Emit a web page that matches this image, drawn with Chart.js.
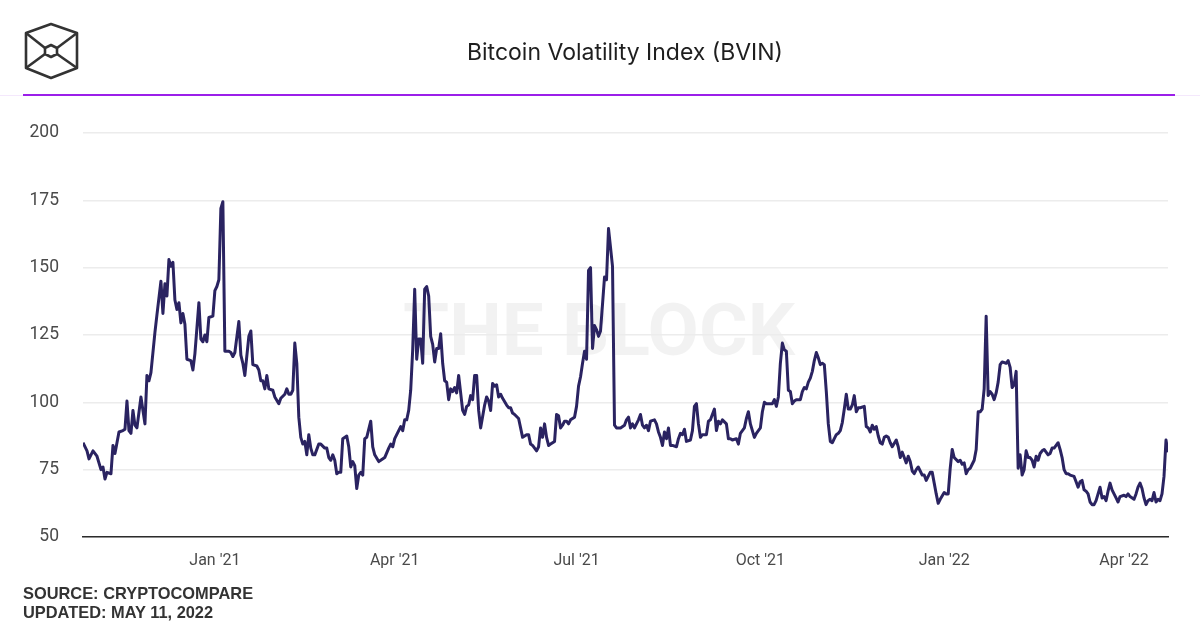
<!DOCTYPE html>
<html lang="en">
<head>
<meta charset="UTF-8">
<title>Bitcoin Volatility Index (BVIN)</title>
<script src="https://cdn.jsdelivr.net/npm/chart.js"></script>
<style>
  body { margin: 0; background: #fff; font-family: Roboto, Arial, sans-serif; }
  .page { position: relative; width: 1200px; height: 630px; overflow: hidden; background: #fff; }
  #bvinChart { position: absolute; left: 0; top: 0; }
  .logo { position: absolute; left: 22px; top: 21px; }
  .title { position: absolute; left: 0; width: 1250px; top: 38px; text-align: center;
           font-family: Inter, "Noto Sans", sans-serif; font-size: 23px; color: #1e1e1e; }
  .rule-faint { position: absolute; left: 0; top: 95px; width: 1200px; height: 1px; background: #f4e8fc; }
  .rule { position: absolute; left: 23px; top: 94px; width: 1152px; height: 2px; background: #9b1fe9; }
  .footer { position: absolute; left: 23px; top: 584px; font-family: "Liberation Sans", Arial, sans-serif;
            font-weight: bold; font-size: 16.4px; line-height: 19px; color: #333; }
</style>
</head>
<body>
<div class="page">
  <canvas id="bvinChart" width="1200" height="630"></canvas>
  <svg class="logo" width="58" height="60" viewBox="22 21 58 60">
    <g fill="none" stroke="#333" stroke-width="2.6" stroke-linejoin="round">
      <polygon points="51,24 77,33 77,68 51,78 26,68 26,33"/>
      <polygon points="51,45 57,48 57,54 51,57 45,54 45,48"/>
      <line x1="26" y1="33" x2="45" y2="48"/>
      <line x1="77" y1="33" x2="57" y2="48"/>
      <line x1="26" y1="68" x2="45" y2="54"/>
      <line x1="77" y1="68" x2="57" y2="54"/>
    </g>
  </svg>
  <div class="title">Bitcoin Volatility Index (BVIN)</div>
  <div class="rule-faint"></div>
  <div class="rule"></div>
  <div class="footer">SOURCE: CRYPTOCOMPARE<br>UPDATED: MAY 11, 2022</div>
</div>

<script>
  // days counted from 1 Jan 2021
  const tickDates = ['2021-01-01', '2021-04-01', '2021-07-01', '2021-10-01', '2022-01-01', '2022-04-01'];
  const tickLabels = ["Jan '21", "Apr '21", "Jul '21", "Oct '21", "Jan '22", "Apr '22"];
  const yTicks = [50, 75, 100, 125, 150, 175, 200];

  const days = [
    -66, -64, -63, -61, -59, -57, -56, -55, -54, -52, -51, -50, -48, -46, -45, -44, -43, -42, -41, -40,
    -39, -37, -35, -34, -33, -32, -30, -29, -27, -26, -25, -24, -23, -22, -21, -20, -19, -18, -17, -16,
    -15, -14, -12, -11, -10, -8, -7, -6, -5, -4, -3, -1, 0, 1, 2, 3, 4, 5, 7, 8,
    9, 10, 12, 13, 14, 15, 17, 18, 19, 21, 22, 23, 24, 25, 26, 27, 29, 30, 32, 33,
    35, 36, 37, 38, 39, 40, 41, 42, 43, 44, 45, 46, 47, 48, 49, 50, 52, 53, 55, 56,
    57, 58, 59, 60, 61, 62, 63, 64, 66, 67, 68, 69, 70, 71, 72, 73, 74, 75, 76, 78,
    79, 80, 82, 83, 85, 87, 88, 89, 90, 91, 93, 94, 95, 96, 97, 98, 99, 100, 101, 102,
    103, 104, 105, 106, 107, 108, 109, 110, 111, 112, 113, 114, 115, 116, 117, 118, 119, 120, 121, 122,
    123, 124, 125, 126, 127, 128, 129, 130, 131, 132, 133, 135, 136, 137, 138, 139, 140, 141, 142, 143,
    144, 146, 147, 148, 149, 150, 152, 153, 154, 156, 157, 158, 159, 160, 161, 162, 163, 164, 165, 166,
    167, 168, 170, 171, 172, 173, 174, 175, 176, 177, 178, 180, 181, 182, 183, 184, 185, 186, 187, 188,
    189, 190, 191, 192, 193, 194, 195, 196, 197, 198, 199, 200, 201, 203, 205, 206, 207, 208, 209, 210,
    211, 212, 213, 214, 215, 216, 217, 218, 220, 221, 222, 223, 224, 225, 226, 227, 228, 229, 231, 232,
    233, 234, 235, 236, 238, 239, 240, 241, 242, 243, 244, 246, 247, 248, 250, 251, 252, 253, 254, 256,
    257, 258, 259, 261, 262, 263, 264, 265, 266, 267, 268, 270, 271, 273, 274, 275, 276, 278, 279, 280,
    281, 282, 283, 284, 285, 286, 287, 288, 289, 290, 291, 293, 294, 295, 296, 297, 298, 299, 300, 301,
    302, 303, 304, 305, 306, 307, 308, 309, 310, 311, 312, 313, 314, 315, 316, 317, 318, 319, 320, 321,
    322, 323, 325, 326, 327, 328, 329, 330, 331, 332, 333, 334, 335, 336, 337, 338, 339, 341, 342, 343,
    344, 345, 346, 347, 348, 349, 350, 351, 352, 353, 354, 355, 356, 357, 358, 359, 360, 361, 362, 363,
    365, 366, 367, 368, 369, 370, 372, 373, 374, 375, 376, 377, 378, 379, 380, 381, 382, 383, 384, 385,
    386, 387, 388, 389, 390, 391, 392, 393, 394, 396, 397, 398, 399, 400, 401, 402, 403, 404, 405, 406,
    407, 408, 409, 410, 411, 412, 413, 414, 415, 416, 417, 418, 419, 420, 421, 422, 423, 424, 425, 426,
    427, 428, 430, 431, 432, 433, 434, 435, 436, 437, 438, 439, 440, 441, 442, 443, 444, 445, 446, 447,
    448, 449, 450, 451, 452, 453, 455, 456, 457, 458, 460, 461, 462, 463, 464, 465, 466, 467, 468, 469,
    470, 471, 472, 473, 474, 475, 476, 477
  ];

  const bvin = [
    85, 82, 79, 82, 80, 75, 76, 71.5, 74, 73.5, 84, 81, 89, 89.5, 90, 100.5, 89.5, 88.5, 97, 91.5,
    90.5, 102, 92, 110, 108, 111, 126, 132.5, 145, 133, 144, 139.5, 153, 150.5, 152, 138, 134.5, 137, 129.5, 133,
    129, 116, 115.5, 112, 118, 137, 123.5, 122.5, 125, 122.5, 131.5, 132, 141.5, 143, 145.5, 172, 174.5, 119, 119, 118.5,
    117, 118.5, 130, 117.5, 114.5, 110, 124.5, 126.5, 114, 113.5, 112, 108, 108, 105, 110, 105, 104.5, 102, 99.5, 101.5,
    103, 105, 103, 103, 104.5, 122, 114.5, 94.5, 87, 84.5, 85.5, 80.5, 88, 83, 80.5, 80.5, 84.5, 84.5, 83, 83,
    79.5, 78.5, 80.5, 78.5, 73.5, 74, 74, 86.5, 87.5, 83.5, 76, 78, 76.5, 68, 73, 74, 73, 86.5, 87, 93,
    83.5, 80.5, 78, 78.5, 79.5, 83, 84.5, 83.5, 86.5, 88, 91, 89.5, 93.5, 93.5, 97, 104.5, 119.5, 142, 116, 123.5,
    123.5, 114.5, 142, 143, 139.5, 124.5, 121.5, 115, 120, 120, 125.5, 114.5, 108, 107.5, 101, 105, 104, 105.5, 103.5, 110,
    103.5, 97, 95.5, 98.5, 99, 102.5, 101, 110, 110, 97, 90.5, 99, 102, 100.5, 97, 107, 106, 106.5, 102, 103,
    101.5, 99, 98, 98, 96, 95.5, 94, 90.5, 87, 88, 88, 84.5, 84, 83, 82, 83.5, 90.5, 87, 92, 87,
    84, 84.5, 85.5, 95.5, 95, 90.5, 91.5, 93, 93, 92, 93.5, 94.5, 98.5, 106, 109.5, 114.5, 119, 116, 149, 150,
    120, 128.5, 127, 124.5, 126.5, 136.5, 146.5, 145.5, 164.5, 157.5, 150.5, 91.5, 90.5, 90.5, 91.5, 93.5, 94.5, 90.5, 92, 90.5,
    92, 93.5, 95.5, 91.5, 90.5, 91.5, 89.5, 93, 93.5, 92, 89, 87, 84, 89, 86.5, 90.5, 84, 84, 83.5, 86.5,
    88.5, 88, 90, 85.5, 86, 89.5, 98.5, 99.5, 92, 87, 88, 88, 93, 93.5, 97.5, 89.5, 93, 92, 93.5, 92,
    86.5, 86.5, 86, 86.5, 84.5, 88.5, 89.5, 90.5, 94, 96.5, 92, 87, 88.5, 90.5, 96.5, 100, 99.5, 99.5, 99.5, 101,
    98.5, 102, 114.5, 122, 119.5, 119, 104.5, 104, 99.5, 100.5, 101, 101, 104, 105.5, 105, 107.5, 109, 111.5, 115.5, 118.5,
    116.5, 114, 114.5, 114, 104, 92, 85.5, 85, 86.5, 88, 88.5, 89.5, 92.5, 97.5, 103, 97.5, 97.5, 99, 102.5, 96.5,
    98, 98, 98.5, 91, 90.5, 89, 91.5, 90, 91, 87.5, 85, 84.5, 87, 87.5, 87, 85, 83.5, 86, 83.5, 79.5,
    81.5, 79.5, 77.5, 80, 78, 74.5, 73.5, 75, 76, 74.5, 73, 73, 71, 72.5, 74, 74, 70, 66, 62.5, 64,
    66.5, 66, 66, 75.5, 82.5, 79.5, 78, 78.5, 77, 77.5, 73.5, 75, 75.5, 77, 78.5, 82.5, 96.5, 96.5, 97.5, 105,
    132, 102.5, 104, 103, 101, 103.5, 107.5, 114, 115, 114.5, 115.5, 113, 105.5, 106.5, 111.5, 75.5, 80.5, 73, 75, 82,
    79.5, 79.5, 78.5, 76, 80, 78.5, 81, 82, 82.5, 81.5, 80.5, 81, 83, 83, 84, 85, 82.5, 79.5, 75, 73.5,
    73.5, 73, 72.5, 70.5, 68.5, 70.5, 71, 67.5, 67, 66, 63, 62, 62, 63.5, 66, 68.5, 64.5, 65, 63.5, 67,
    70, 67.5, 66, 64.5, 63, 65, 65.5, 65, 66, 65, 64, 66, 68.5, 70, 68, 64.5, 62, 63.5, 64, 63.5,
    66.5, 63, 64, 63.5, 66, 72.5, 86, 81.5
  ];

  const dayMs = 24 * 3600 * 1000;
  const origin = Date.UTC(2021, 0, 1);
  const tickDays = tickDates.map(d => Math.round((Date.parse(d) - origin) / dayMs));

  const points = days.map((d, i) => ({ x: d, y: bvin[i] }));

  const watermark = {
    id: 'watermark',
    beforeDraw(chart) {
      const ctx = chart.ctx;
      ctx.save();
      ctx.font = 'bold 72px Roboto, Arial, sans-serif';
      const w = ctx.measureText('THE BLOCK').width;
      ctx.translate(599, 355);
      ctx.scale(392 / w, 1);
      ctx.fillStyle = 'rgba(0, 0, 0, 0.05)';
      ctx.textAlign = 'center';
      ctx.textBaseline = 'alphabetic';
      ctx.fillText('THE BLOCK', 0, 0);
      ctx.restore();
    }
  };

  new Chart(document.getElementById('bvinChart'), {
    type: 'line',
    data: {
      datasets: [{
        data: points,
        borderColor: '#2a2361',
        borderWidth: 3,
        borderJoinStyle: 'round',
        pointRadius: 0,
        tension: 0,
        fill: false
      }]
    },
    options: {
      responsive: false,
      animation: false,
      layout: { padding: { left: 0, top: 133, right: 32, bottom: 0 } },
      plugins: { legend: { display: false }, tooltip: { enabled: false } },
      scales: {
        x: {
          type: 'linear',
          min: days[0],
          max: days[days.length - 1],
          afterBuildTicks: s => { s.ticks = tickDays.map(v => ({ value: v })); },
          afterFit: s => { s.height = 93; },
          grid: { display: false, drawTicks: false },
          border: { display: true, color: '#2b2b2b', width: 1.5 },
          ticks: {
            padding: 14,
            autoSkip: false,
            maxRotation: 0,
            color: '#4a4a4a',
            font: { family: 'Roboto, Arial, sans-serif', size: 16 },
            callback: (v, i) => tickLabels[i]
          }
        },
        y: {
          min: 50,
          max: 200,
          afterBuildTicks: s => { s.ticks = yTicks.map(v => ({ value: v })); },
          afterFit: s => { s.width = 83; },
          grid: { color: '#ececec', lineWidth: 1.5, drawTicks: false },
          border: { display: false },
          ticks: { padding: 24, color: '#4a4a4a', font: { family: 'Roboto, Arial, sans-serif', size: 17.5 } }
        }
      }
    },
    plugins: [watermark]
  });
</script>
</body>
</html>
